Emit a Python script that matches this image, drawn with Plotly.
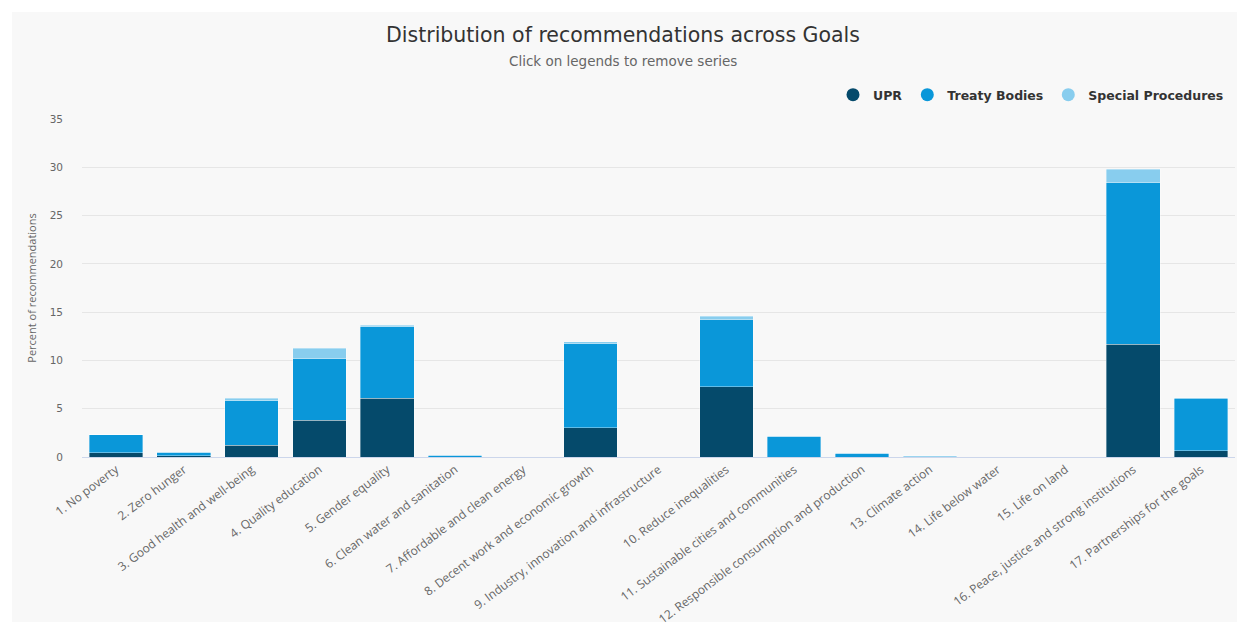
import plotly.graph_objects as go

# Share of recommendations per Sustainable Development Goal, by mechanism
goals = [
    "1. No poverty",
    "2. Zero hunger",
    "3. Good health and well-being",
    "4. Quality education",
    "5. Gender equality",
    "6. Clean water and sanitation",
    "7. Affordable and clean energy",
    "8. Decent work and economic growth",
    "9. Industry, innovation and infrastructure",
    "10. Reduce inequalities",
    "11. Sustainable cities and communities",
    "12. Responsible consumption and production",
    "13. Climate action",
    "14. Life below water",
    "15. Life on land",
    "16. Peace, justice and strong institutions",
    "17. Partnerships for the goals",
]
upr = [0.45, 0.15, 1.2, 3.8, 6.1, 0.0, 0.0, 3.05, 0.0, 7.3, 0.0, 0.0, 0.0, 0.0, 0.0, 11.65, 0.65]
treaty_bodies = [1.85, 0.35, 4.65, 6.4, 7.4, 0.2, 0.0, 8.7, 0.0, 6.9, 2.15, 0.38, 0.1, 0.0, 0.0, 16.75, 5.45]
special_procedures = [0.0, 0.0, 0.25, 1.05, 0.15, 0.0, 0.0, 0.17, 0.0, 0.4, 0.0, 0.0, 0.04, 0.0, 0.0, 1.4, 0.05]

series = [
    ("UPR", upr, "#054a6b"),
    ("Treaty Bodies", treaty_bodies, "#0a97d9"),
    ("Special Procedures", special_procedures, "#88cdee"),
]

FONT = "Open Sans"
WIDE = "DejaVu Sans"
W, H = 1237, 622
ML, MR, MT, MB = 82, 2, 119, 165

fig = go.Figure()
for name, vals, color in series:
    fig.add_trace(go.Bar(
        x=goals, y=vals, name=name, legendgroup=name, showlegend=False,
        marker=dict(color=color, line=dict(color="rgba(255,255,255,0.6)", width=0.6)),
        hovertemplate="%{x}<br>" + name + ": %{y}<extra></extra>",
    ))
    # circular legend symbols linked to the bars
    fig.add_trace(go.Scatter(
        x=[None], y=[None], mode="markers", name=name, legendgroup=name,
        marker=dict(color=color, size=13, symbol="circle"),
    ))

pw = W - ML - MR
ph = H - MT - MB
# light panel behind the chart
fig.add_shape(
    type="rect", xref="paper", yref="paper", layer="below",
    x0=(12 - ML) / pw, x1=(W - ML) / pw,
    y0=(H - MB - 622) / ph, y1=(H - MB - 12) / ph,
    fillcolor="#f8f8f8", line=dict(width=0),
)

fig.update_layout(
    width=W, height=H,
    margin=dict(l=ML, r=MR, t=MT, b=MB),
    paper_bgcolor="#ffffff",
    plot_bgcolor="rgba(0,0,0,0)",
    barmode="stack",
    bargap=0.21,
    font=dict(family=FONT, color="#666666"),
    title=dict(
        text="Distribution of recommendations across Goals",
        x=(623 / W), xref="container", xanchor="center",
        y=1 - 35 / H, yref="container", yanchor="middle",
        font=dict(family=WIDE, size=20.5, color="#333333"),
    ),
    annotations=[dict(
        text="Click on legends to remove series",
        xref="paper", yref="paper",
        x=(623 - ML) / pw, y=(H - MB - 61) / ph,
        xanchor="center", yanchor="middle", showarrow=False,
        font=dict(family=WIDE, size=13.5, color="#666666"),
    )],
    legend=dict(
        orientation="h", x=(1229 - ML) / pw, xanchor="right",
        y=(H - MB - 95) / ph, yanchor="middle",
        font=dict(family=WIDE, size=12.5, color="#333333", weight="bold"),
        bgcolor="rgba(0,0,0,0)", itemclick="toggle",
    ),
    xaxis=dict(
        tickangle=-37, tickfont=dict(size=12, color="#666666"),
        showgrid=False, showline=True, linecolor="#ccd6eb", linewidth=1,
        ticks="", automargin=False,
    ),
    yaxis=dict(
        range=[0, 35], dtick=5,
        gridcolor="#e6e6e6", gridwidth=1,
        tickfont=dict(family=WIDE, size=10.5, color="#666666"),
        ticklabelstandoff=18,
        zeroline=False, showline=False, ticks="",
        title=dict(text="Percent of recommendations",
                   font=dict(size=11, color="#666666"), standoff=10),
        automargin=False,
    ),
)

fig.write_html("out.html")
